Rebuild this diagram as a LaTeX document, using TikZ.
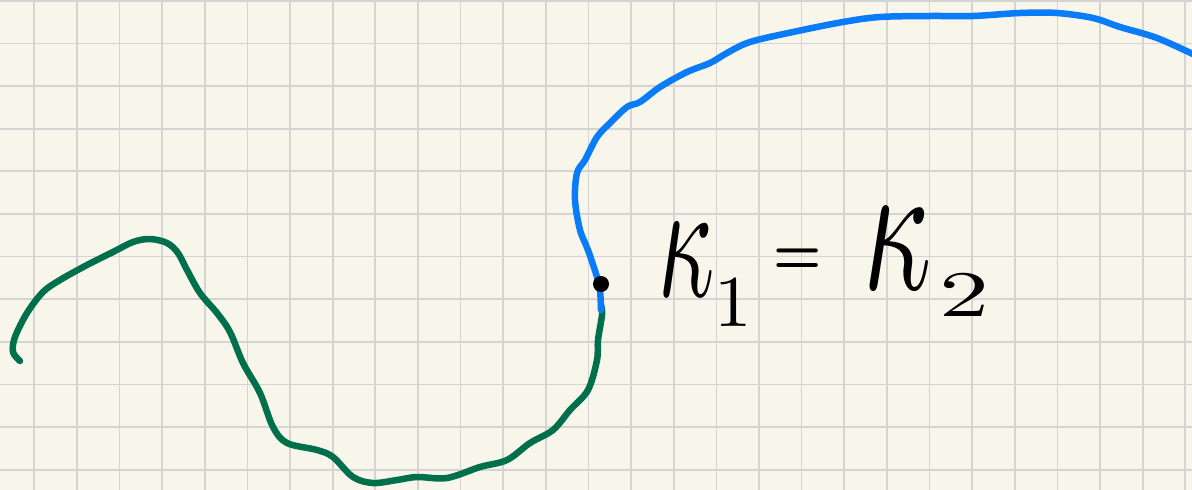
\documentclass[tikz,border=0pt]{standalone}
\definecolor{paper}{RGB}{248,246,234}
\definecolor{gridgray}{RGB}{212,212,212}
\definecolor{curvegreen}{RGB}{0,112,76}
\definecolor{curveblue}{RGB}{10,124,248}
\tikzset{
  gridline/.style={gridgray, line width=1.7pt},
  penstroke/.style={line width=6.5pt, line cap=round, line join=round},
  glyph/.style={inner sep=0pt, anchor=center},
}
\begin{document}
\begin{tikzpicture}[x=1pt,y=-1pt]
\useasboundingbox (0,0) rectangle (1192,490);
\fill[paper] (0,0) rectangle (1192,490);
\begin{scope}
\clip (0,0) rectangle (1192,490);
\foreach \i in {0,...,27} {\draw[gridline] ({34.3+42.63*\i},0) -- ({34.3+42.63*\i},490);}
\foreach \i in {0,...,11} {\draw[gridline] (0,{0.8+42.63*\i}) -- (1192,{0.8+42.63*\i});}
\draw[penstroke, curvegreen] plot[smooth, tension=0.55] coordinates {
 (20,361) (13,352) (15,337) (27,313) (43,292) (60,280) (87,265) (113,252) (133,242)
 (150,239) (167,243) (178,253) (187,270) (200,293) (217,313) (230,332) (243,363)
 (260,393) (273,427) (287,443) (317,450) (333,457) (353,477) (373,483) (397,480)
 (417,477) (447,478) (480,467) (507,460) (530,443) (553,430) (570,410) (588,390)
 (597,360) (598,340) (602,315) (601,305)};
\draw[penstroke, curveblue] plot[smooth, tension=0.55] coordinates {
 (601,310) (600,290) (597,277) (588,250) (580,230) (575,200) (577,173) (585,160)
 (597,137) (610,123) (627,107) (640,102) (660,87) (687,72) (710,63) (727,53) (750,42)
 (793,32) (843,22) (880,17) (930,16) (973,16) (1020,13) (1057,13) (1093,18)
 (1120,27) (1157,38) (1197,56)};
\end{scope}
\coordinate (joint) at (601,284);
\fill[black] (joint) circle [radius=8];
\node[glyph] (kappa1) at (687,260) {\scalebox{9.8}[17]{$\kappa$}};
\node[glyph] (sub1) at (733,303) {\scalebox{7.5}[7.3]{$1$}};
\node[glyph] (eq) at (798,262) {\scalebox{5.4}[6.5]{\boldmath$=$}};
\node[glyph] (kappa2) at (898,249) {\scalebox{11.9}[19]{$\kappa$}};
\node[glyph] (sub2) at (964,296) {\scalebox{10}[6.5]{$2$}};
\end{tikzpicture}
\end{document}
